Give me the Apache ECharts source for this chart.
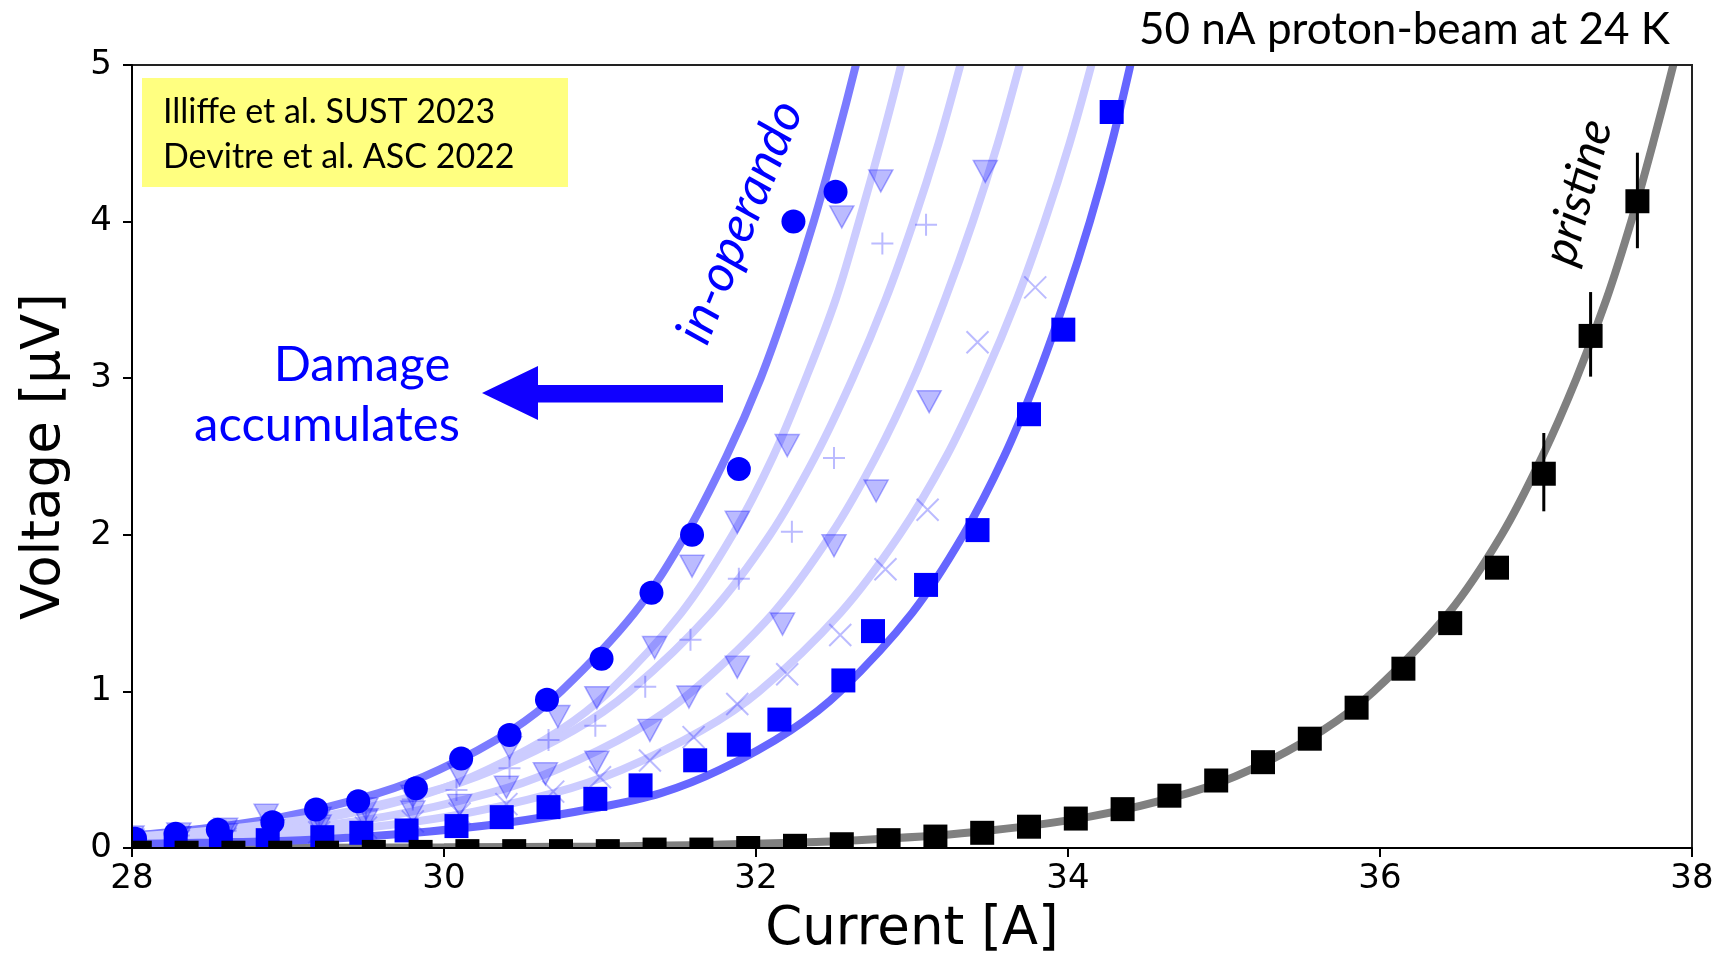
<!DOCTYPE html>
<html>
<head>
<meta charset="utf-8">
<script src="https://cdn.jsdelivr.net/npm/echarts@6/dist/echarts.min.js"></script>
<style>
  html, body { margin: 0; padding: 0; background: #fff; }
  #chart { width: 1718px; height: 964px; }
</style>
</head>
<body>
<div id="chart"></div>
<script>
// ---- Measured V-I points (current in A, voltage in µV) ----
const inOperandoPts = [[28.02,0.059],[28.28,0.091],[28.55,0.116],[28.90,0.165],[29.18,0.246],[29.45,0.299],
  [29.82,0.382],[30.11,0.572],[30.42,0.721],[30.66,0.947],[31.01,1.209],[31.33,1.63],[31.59,2.0],
  [31.89,2.42],[32.24,4.0],[32.51,4.19]];
const stepATriPts = [[28.0,0.07],[28.3,0.09],[28.6,0.12],[28.86,0.21],[29.2,0.19],[29.5,0.25],[29.8,0.33],
  [30.10,0.47],[30.42,0.64],[30.73,0.84],[30.98,0.96],[31.35,1.28],[31.59,1.80],[31.88,2.08],[32.2,2.57],
  [32.55,4.03],[32.80,4.26]];
const stepBPlusPts = [[28.0,0.06],[28.3,0.08],[28.6,0.11],[28.9,0.14],[29.2,0.19],[29.5,0.24],[29.8,0.31],
  [30.08,0.37],[30.42,0.51],[30.67,0.69],[30.97,0.78],[31.29,1.03],[31.58,1.33],[31.89,1.72],[32.23,2.02],
  [32.50,2.49],[32.81,3.86],[33.09,3.98]];
const stepCTriPts = [[28.0,0.05],[28.3,0.065],[28.6,0.085],[28.9,0.11],[29.2,0.14],[29.5,0.18],[29.8,0.23],
  [30.10,0.272],[30.40,0.388],[30.65,0.474],[30.98,0.548],[31.32,0.751],[31.57,0.964],[31.88,1.155],
  [32.17,1.43],[32.5,1.93],[32.77,2.28],[33.11,2.85],[33.47,4.32]];
const stepDCrossPts = [[28.0,0.035],[28.3,0.046],[28.6,0.06],[28.9,0.077],[29.2,0.10],[29.5,0.13],[29.8,0.17],
  [30.1,0.22],[30.4,0.28],[30.7,0.36],[31.0,0.452],[31.32,0.559],[31.6,0.708],[31.88,0.92],[32.2,1.11],
  [32.54,1.36],[32.83,1.78],[33.1,2.16],[33.42,3.23],[33.79,3.58]];
const firstStepPts = [[28.0,0.02],[28.28,0.03],[28.57,0.04],[28.87,0.05],[29.22,0.069],[29.47,0.097],
  [29.76,0.112],[30.08,0.14],[30.37,0.197],[30.67,0.261],[30.97,0.314],[31.26,0.40],[31.61,0.56],
  [31.89,0.66],[32.15,0.82],[32.56,1.07],[32.75,1.385],[33.09,1.68],[33.42,2.03],[33.75,2.77],
  [33.97,3.31],[34.28,4.70]];
const pristinePts = [[28.05,-0.03],[28.35,-0.03],[28.65,-0.03],[28.95,-0.03],[29.25,-0.03],[29.55,-0.025],
  [29.85,-0.025],[30.15,-0.02],[30.45,-0.02],[30.75,-0.02],[31.05,-0.02],[31.35,-0.01],[31.65,-0.01],
  [31.95,0.0],[32.25,0.014],[32.55,0.024],[32.85,0.05],[33.15,0.073],[33.45,0.097],[33.75,0.136],
  [34.05,0.188],[34.35,0.248],[34.65,0.334],[34.95,0.431],[35.25,0.548],[35.55,0.698],[35.85,0.896],
  [36.15,1.145],[36.45,1.436],[36.75,1.79],[37.05,2.39],[37.35,3.27],[37.65,4.13]];
// error bars: [current, lower, upper]
const pristineErr = [[37.05,2.15,2.65],[37.35,3.01,3.55],[37.65,3.83,4.44]];

// ---- Fitted transition curves [current, voltage] ----
const fitInOperando = [[27.01,0.03],[27.52,0.05],[28.24,0.1],[28.97,0.2],[29.58,0.35],[29.97,0.5],[30.43,0.75],
  [30.75,1.0],[31.22,1.5],[31.55,2.0],[31.81,2.5],[32.03,3.0],[32.21,3.5],[32.37,4.0],[32.51,4.5],[32.64,5.0],[32.76,5.5]];
const fitStepA = [[27.34,0.03],[27.85,0.05],[28.56,0.1],[29.29,0.2],[29.90,0.35],[30.28,0.5],[30.74,0.75],
  [31.06,1.0],[31.52,1.5],[31.85,2.0],[32.11,2.5],[32.32,3.0],[32.51,3.5],[32.66,4.0],[32.80,4.5],[32.93,5.0],[33.04,5.5]];
const fitStepB = [[27.03,0.03],[27.60,0.05],[28.39,0.1],[29.21,0.2],[29.88,0.35],[30.32,0.5],[30.83,0.75],
  [31.19,1.0],[31.71,1.5],[32.09,2.0],[32.38,2.5],[32.62,3.0],[32.83,3.5],[33.01,4.0],[33.17,4.5],[33.31,5.0],[33.44,5.5]];
const fitStepC = [[27.46,0.03],[28.02,0.05],[28.81,0.1],[29.62,0.2],[30.29,0.35],[30.72,0.5],[31.23,0.75],
  [31.59,1.0],[32.11,1.5],[32.48,2.0],[32.77,2.5],[33.01,3.0],[33.21,3.5],[33.39,4.0],[33.55,4.5],[33.69,5.0],[33.82,5.5]];
const fitStepD = [[27.83,0.03],[28.40,0.05],[29.20,0.1],[30.02,0.2],[30.70,0.35],[31.14,0.5],[31.65,0.75],
  [32.02,1.0],[32.54,1.5],[32.92,2.0],[33.22,2.5],[33.46,3.0],[33.67,3.5],[33.85,4.0],[34.01,4.5],[34.15,5.0],[34.28,5.5]];
const fitFirstStep = [[27.9,0.025],[28.5,0.035],[29.08,0.05],[29.72,0.09],[30.36,0.155],[31.0,0.26],[31.39,0.35],
  [31.77,0.5],[32.22,0.75],[32.54,1.0],[33.00,1.5],[33.33,2.0],[33.59,2.5],[33.80,3.0],[33.98,3.5],[34.14,4.0],
  [34.28,4.5],[34.40,5.0],[34.51,5.5]];
const fitPristine = [[28.0,0.0],[30.0,0.004],[31.0,0.01],[31.70,0.02],[32.65,0.05],[33.39,0.1],[34.14,0.2],
  [34.77,0.35],[35.17,0.5],[35.63,0.75],[35.96,1.0],[36.44,1.5],[36.78,2.0],[37.04,2.5],[37.26,3.0],[37.45,3.5],
  [37.61,4.0],[37.75,4.5],[37.88,5.0],[38.0,5.5]];

const chart = echarts.init(document.getElementById('chart'));

const LIGHT_LINE = '#ccccff';
const MARK_LIGHT = 'rgba(30,30,255,0.30)';
const PLUS_PATH = 'path://M5,0L5,10M0,5L10,5';
const CROSS_PATH = 'path://M0,0L10,10M10,0L0,10';

function fitLine(data, color) {
  return {
    type: 'line', data: data, symbol: 'none', smooth: 0.35,
    lineStyle: { color: color, width: 8, opacity: 1 }, z: 2, silent: true, clip: true
  };
}
function markers(data, opts) {
  return Object.assign({ type: 'scatter', data: data, clip: false, silent: true, z: 4 }, opts);
}
const lightTri = {
  symbol: 'triangle', symbolRotate: 180, symbolSize: [24, 22],
  itemStyle: { color: MARK_LIGHT, borderColor: 'rgba(30,30,255,0.35)', borderWidth: 1.5, opacity: 1 }
};
const lightStroke = (path) => ({
  symbol: path, symbolSize: 22,
  itemStyle: { color: 'none', borderColor: MARK_LIGHT, borderWidth: 2, opacity: 1 }
});
const solid = (symbol, color) => ({
  symbol: symbol, symbolSize: 24, z: 5, itemStyle: { color: color, opacity: 1 }
});

const axisFont = { fontFamily: 'DejaVu Sans', color: '#000' };

const option = {
  animation: false,
  backgroundColor: '#fff',
  grid: { left: 132, right: 26, top: 65, bottom: 116, show: true, borderColor: '#222',
          borderWidth: 2, backgroundColor: 'transparent', z: 60 },
  xAxis: {
    type: 'value', min: 28, max: 38, interval: 2, z: 61,
    axisLine: { show: true, onZero: false, lineStyle: { color: '#000', width: 2 } },
    axisTick: { show: true, length: 9, lineStyle: { color: '#000', width: 2 } },
    axisLabel: Object.assign({ fontSize: 34, margin: 14 }, axisFont),
    splitLine: { show: false },
    name: 'Current [A]', nameLocation: 'middle', nameGap: 56,
    nameTextStyle: Object.assign({ fontSize: 53 }, axisFont)
  },
  yAxis: {
    type: 'value', min: 0, max: 5, interval: 1, z: 61,
    axisLine: { show: true, onZero: false, lineStyle: { color: '#000', width: 2 } },
    axisTick: { show: true, length: 9, lineStyle: { color: '#000', width: 2 } },
    axisLabel: Object.assign({ fontSize: 34, margin: 20 }, axisFont),
    splitLine: { show: false },
    name: 'Voltage [µV]', nameLocation: 'middle', nameGap: 60, nameRotate: 90,
    nameTextStyle: Object.assign({ fontSize: 53 }, axisFont)
  },
  series: [
    fitLine(fitPristine, '#808080'),
    fitLine(fitInOperando, '#7b7bff'),
    fitLine(fitStepA, LIGHT_LINE),
    fitLine(fitStepB, LIGHT_LINE),
    fitLine(fitStepC, LIGHT_LINE),
    fitLine(fitStepD, LIGHT_LINE),
    fitLine(fitFirstStep, '#6666ff'),
    markers(stepATriPts, lightTri),
    markers(stepBPlusPts, lightStroke(PLUS_PATH)),
    markers(stepCTriPts, lightTri),
    markers(stepDCrossPts, lightStroke(CROSS_PATH)),
    markers(firstStepPts, solid('rect', '#0000ff')),
    markers(inOperandoPts, solid('circle', '#0000ff')),
    markers(pristinePts, solid('rect', '#000000')),
    {
      type: 'custom', data: pristineErr, z: 6, silent: true, clip: false,
      encode: { x: 0, y: [1, 2] },
      renderItem: function (params, api) {
        const lo = api.coord([api.value(0), api.value(1)]);
        const hi = api.coord([api.value(0), api.value(2)]);
        return { type: 'line', shape: { x1: lo[0], y1: lo[1], x2: hi[0], y2: hi[1] },
                 style: { stroke: '#000', lineWidth: 3 } };
      }
    }
  ],
  graphic: { elements: [
    // white margins keep markers inside the frame
    { type: 'rect', shape: { x: 0, y: 0, width: 131, height: 964 }, style: { fill: '#fff' }, z: 50, silent: true },
    { type: 'rect', shape: { x: 0, y: 849, width: 1718, height: 115 }, style: { fill: '#fff' }, z: 50, silent: true },
    { type: 'rect', shape: { x: 0, y: 0, width: 1718, height: 64 }, style: { fill: '#fff' }, z: 50, silent: true },
    { type: 'rect', shape: { x: 1693, y: 0, width: 25, height: 964 }, style: { fill: '#fff' }, z: 50, silent: true },
    // title
    { type: 'text', x: 1670, y: 30, z: 70, silent: true,
      style: { text: '50 nA proton-beam at 24 K', fill: '#000', fontFamily: 'Lato', fontSize: 44,
               textAlign: 'right', align: 'right', textVerticalAlign: 'middle', verticalAlign: 'middle' } },
    // reference box
    { type: 'rect', shape: { x: 142, y: 78, width: 426, height: 109 }, style: { fill: '#ffff80' }, z: 70, silent: true },
    { type: 'text', x: 163, y: 112, z: 71, silent: true,
      style: { text: 'Illiffe et al. SUST 2023', fill: '#000', fontFamily: 'Lato', fontSize: 34,
               textAlign: 'left', align: 'left', textVerticalAlign: 'middle', verticalAlign: 'middle' } },
    { type: 'text', x: 163, y: 157, z: 71, silent: true,
      style: { text: 'Devitre et al. ASC 2022', fill: '#000', fontFamily: 'Lato', fontSize: 34,
               textAlign: 'left', align: 'left', textVerticalAlign: 'middle', verticalAlign: 'middle' } },
    // damage arrow
    { type: 'text', x: 362, y: 365, z: 70, silent: true,
      style: { text: 'Damage', fill: '#0000ff', fontFamily: 'Lato', fontSize: 49,
               textAlign: 'center', align: 'center', textVerticalAlign: 'middle', verticalAlign: 'middle' } },
    { type: 'text', x: 327, y: 425, z: 70, silent: true,
      style: { text: 'accumulates', fill: '#0000ff', fontFamily: 'Lato', fontSize: 49,
               textAlign: 'center', align: 'center', textVerticalAlign: 'middle', verticalAlign: 'middle' } },
    { type: 'polygon', z: 70, silent: true,
      shape: { points: [[482,393],[538,366],[538,385],[723,385],[723,402.5],[538,402.5],[538,420]] },
      style: { fill: '#1000ff' } },
    // curve labels
    { type: 'text', x: 740, y: 222, rotation: 67.8 * Math.PI / 180, z: 70, silent: true,
      style: { text: 'in-operando', fill: '#0000ff', fontFamily: 'Lato', fontStyle: 'italic', fontSize: 51,
               textAlign: 'center', align: 'center', textVerticalAlign: 'middle', verticalAlign: 'middle' } },
    { type: 'text', x: 1578, y: 192, rotation: 75 * Math.PI / 180, z: 70, silent: true,
      style: { text: 'pristine', fill: '#000', fontFamily: 'Lato', fontStyle: 'italic', fontSize: 48,
               textAlign: 'center', align: 'center', textVerticalAlign: 'middle', verticalAlign: 'middle' } }
  ] }
};

chart.setOption(option);
</script>
</body>
</html>
